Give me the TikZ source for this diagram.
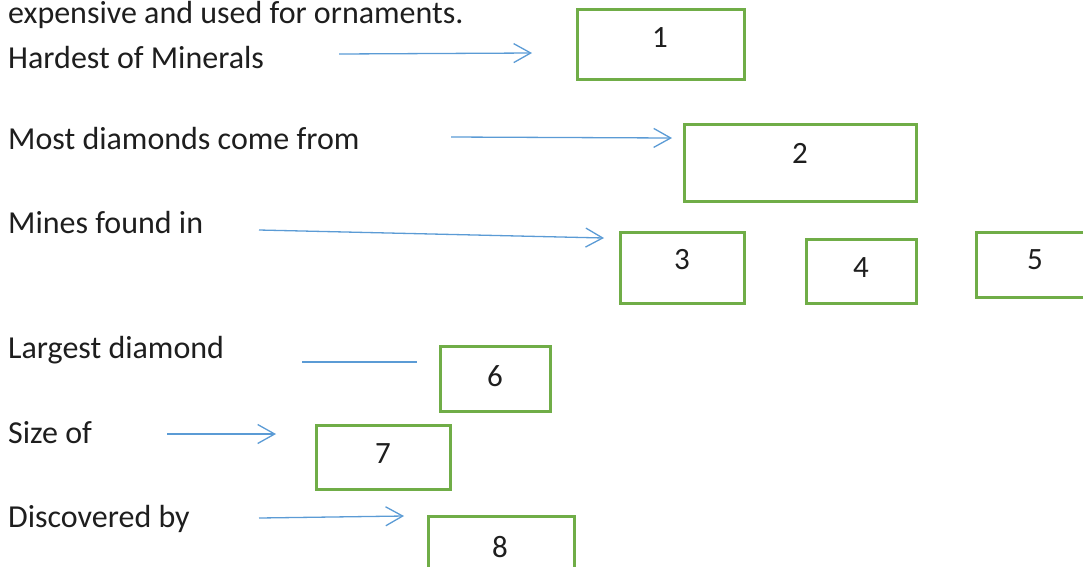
\documentclass[tikz,border=0pt]{standalone}
\usepackage{fontspec}
\setmainfont{Carlito}
\usetikzlibrary{arrows.meta}
\definecolor{boxgreen}{HTML}{70AD47}
\definecolor{arrowblue}{HTML}{5B9BD5}
\definecolor{txt}{HTML}{1E1E1E}
\tikzset{
  box/.style={draw=boxgreen, line width=3.0pt, inner sep=0pt, fill=none},
  num/.style={text=txt, inner sep=0pt, font=\fontsize{31}{36}\selectfont},
  lbl/.style={text=txt, inner sep=0pt, anchor=base west, font=\fontsize{32}{38}\selectfont},
  conn/.style={draw=arrowblue, line width=1.3pt, -{Straight Barb[length=17pt,width=19pt,line width=1.3pt]}},
  plainconn/.style={draw=arrowblue, line width=1.8pt}
}
\begin{document}
\begin{tikzpicture}[x=1pt,y=-1pt]
\useasboundingbox (0,0) rectangle (1083,566);
\clip (0,0) rectangle (1083,566);
% labels
\node[lbl] (t0) at (8,23) {expensive and used for ornaments.};
\node[lbl] (t1) at (8,68) {Hardest of Minerals};
\node[lbl] (t2) at (8,149) {Most diamonds come from};
\node[lbl] (t3) at (8,233) {Mines found in};
\node[lbl] (t6) at (8,358) {Largest diamond};
\node[lbl] (t7) at (8,443) {Size of};
\node[lbl] (t8) at (8,527) {Discovered by};
% boxes
\node[box, minimum width=167pt, minimum height=70pt] (b1) at (660.5,44) {};
\node[box, minimum width=232pt, minimum height=77pt] (b2) at (800,162.5) {};
\node[box, minimum width=124pt, minimum height=71pt] (b3) at (682,267.5) {};
\node[box, minimum width=110pt, minimum height=64pt] (b4) at (861,271) {};
\node[box, minimum width=119pt, minimum height=65pt] (b5) at (1035.5,264.5) {};
\node[box, minimum width=110pt, minimum height=65pt] (b6) at (495,378.5) {};
\node[box, minimum width=134pt, minimum height=64pt] (b7) at (383,457) {};
\node[box, minimum width=146pt, minimum height=70pt] (b8) at (501,551) {};
% numbers
\node[num] (n1) at (660,38) {1};
\node[num] (n2) at (800,153) {2};
\node[num] (n3) at (682,260) {3};
\node[num] (n4) at (861,268) {4};
\node[num] (n5) at (1035,260) {5};
\node[num] (n6) at (495,376) {6};
\node[num] (n7) at (383,454) {7};
\node[num] (n8) at (500,547) {8};
% connector ends
\coordinate (s1) at (339,54);  \coordinate (e1) at (532,53);
\coordinate (s2) at (451,137); \coordinate (e2) at (672,138);
\coordinate (s3) at (259,230); \coordinate (e3) at (604,238);
\coordinate (s6) at (302,362); \coordinate (e6) at (417,362);
\coordinate (s7) at (167,434); \coordinate (e7) at (276,434);
\coordinate (s8) at (259,518); \coordinate (e8) at (404,516);
% connectors
\draw[conn] (s1) -- (e1);
\draw[conn] (s2) -- (e2);
\draw[conn] (s3) -- (e3);
\draw[plainconn] (s6) -- (e6);
\draw[conn] (s7) -- (e7);
\draw[conn] (s8) -- (e8);
\end{tikzpicture}
\end{document}
